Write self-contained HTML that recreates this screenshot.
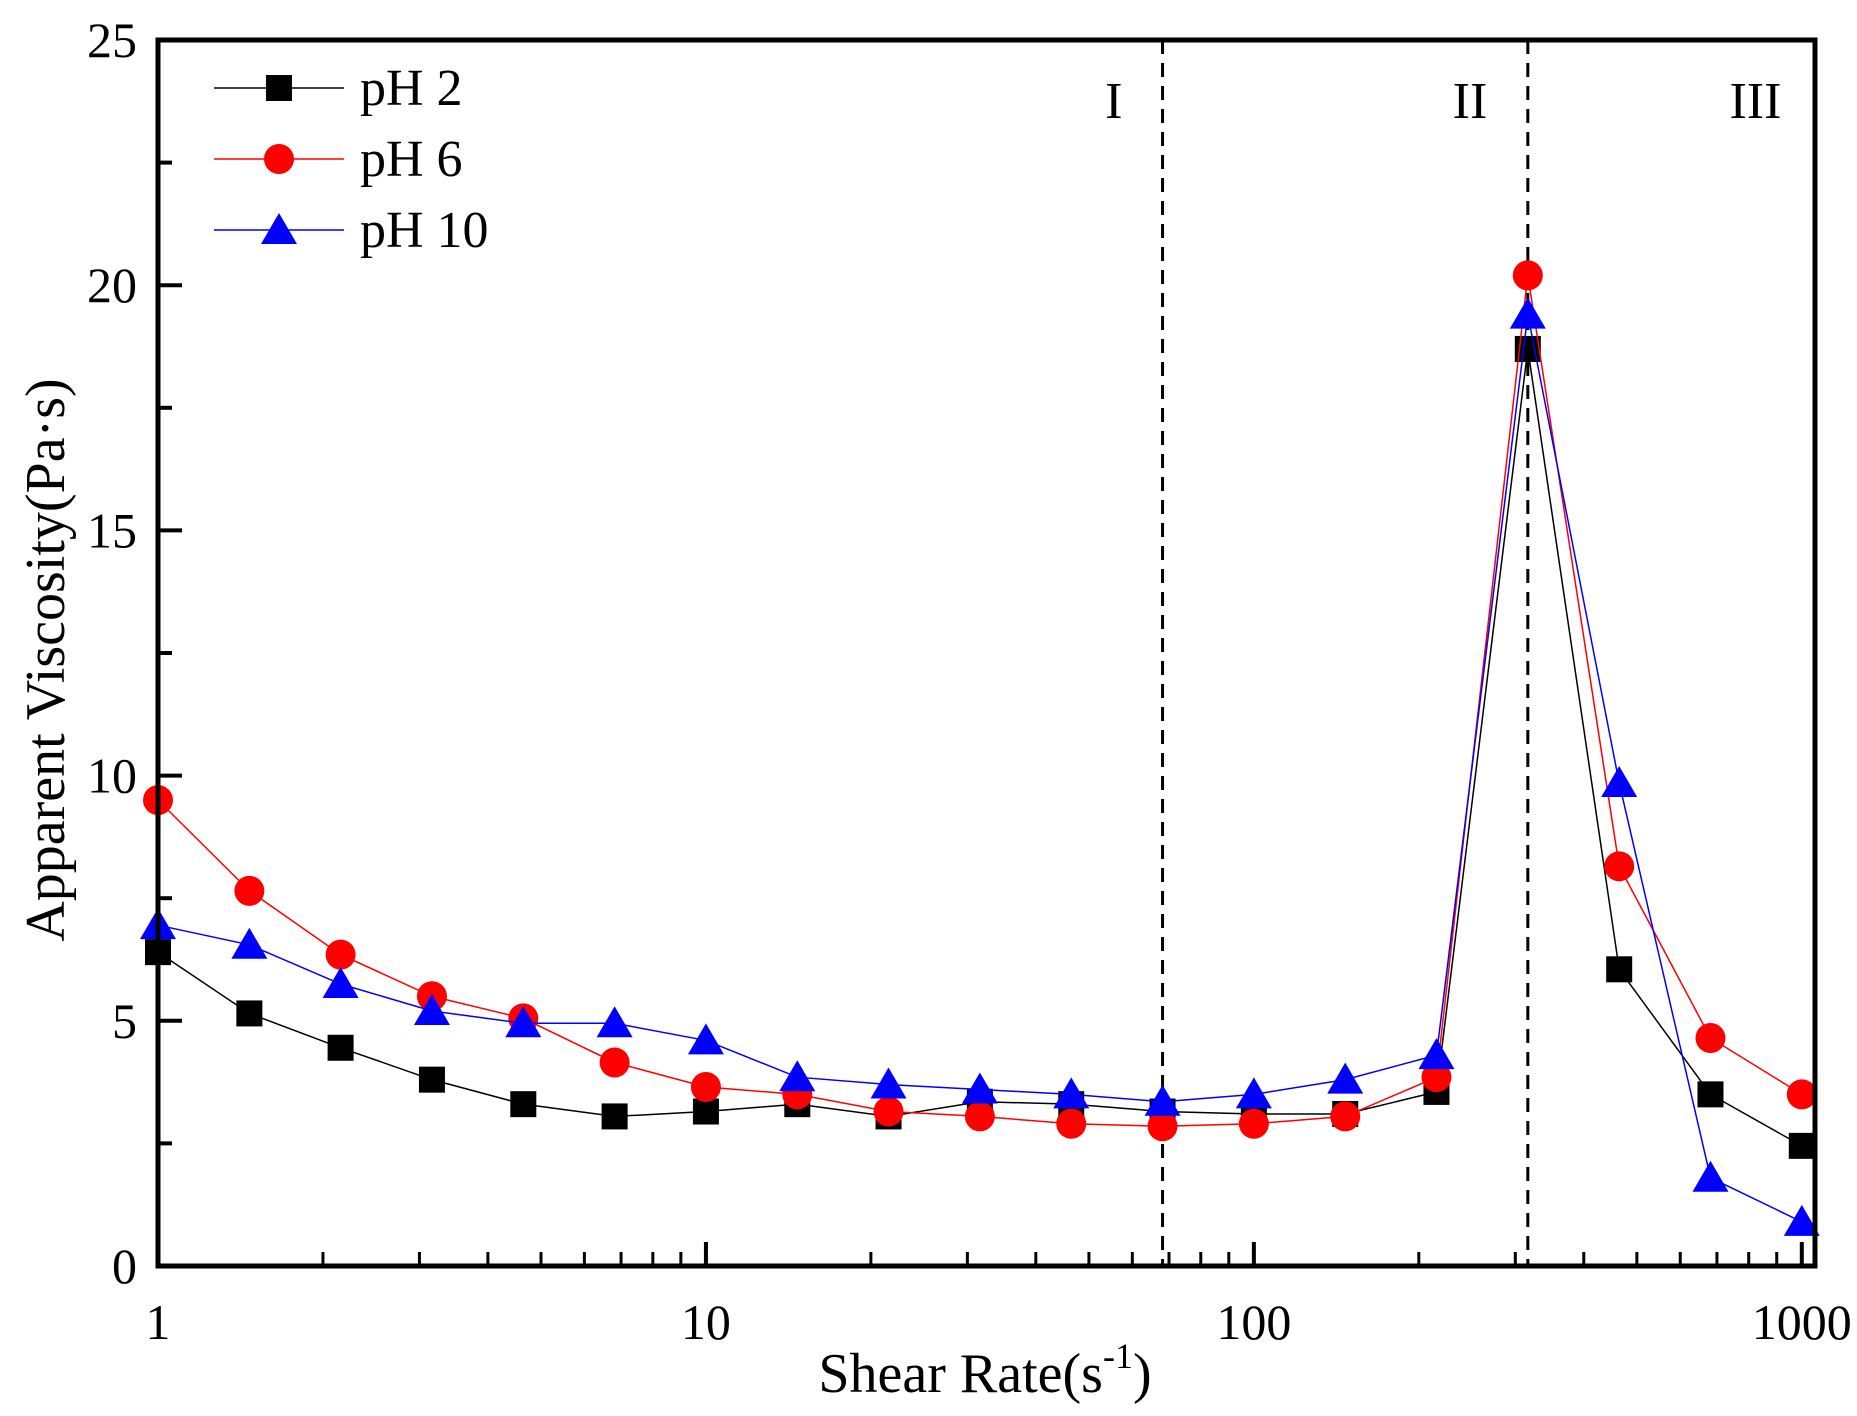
<!DOCTYPE html>
<html><head><meta charset="utf-8"><style>body{margin:0;background:#fff}svg{display:block}text{font-family:"Liberation Serif",serif;fill:#000}</style></head>
<body>
<svg id="chart" width="1857" height="1416" viewBox="0 0 1857 1416" xmlns="http://www.w3.org/2000/svg"></svg>
<script>
const xValues=[1,1.468,2.154,3.162,4.642,6.813,10,14.68,21.54,31.62,46.42,68.13,100,146.8,215.4,316.2,464.2,681.3,1000];
const pH2=[6.4,5.15,4.45,3.8,3.3,3.05,3.15,3.3,3.05,3.35,3.3,3.15,3.1,3.1,3.55,18.7,6.05,3.5,2.45];
const pH6=[9.5,7.65,6.35,5.5,5.05,4.15,3.65,3.5,3.15,3.05,2.9,2.85,2.9,3.05,3.85,20.2,8.15,4.65,3.5];
const pH10=[6.95,6.55,5.75,5.2,4.95,4.95,4.6,3.85,3.7,3.6,3.5,3.35,3.5,3.8,4.3,19.4,9.85,1.8,0.9];
const yTicks=[0,5,10,15,20,25];
const xTicks=[1,10,100,1000];
const xMax=1057;
const regionLines=[68.13,316.2];
const regionLabels=["I","II","III"];
const regionLabelX=[55.5,248,823];

const L=158,R=1815,T=40,B=1266;
const sx=v=>L+Math.log10(v)*(R-L)/Math.log10(xMax);
const sy=v=>B-v*(B-T)/25;
const svg=document.getElementById('chart');
const NS='http://www.w3.org/2000/svg';
function mk(tag,attrs,parent){const e=document.createElementNS(NS,tag);for(const k in attrs)e.setAttribute(k,attrs[k]);(parent||svg).appendChild(e);return e;}

regionLines.forEach(v=>{const l=mk('line',{x1:sx(v),x2:sx(v),y1:T,y2:B,stroke:'#000','stroke-width':3,'stroke-dasharray':'14,9'});

});
regionLabels.forEach((t,i)=>{const e=mk('text',{x:sx(regionLabelX[i]),y:118,'font-size':52,'text-anchor':'middle'});e.textContent=t;

});

yTicks.forEach(v=>{mk('line',{x1:L,x2:L+24,y1:sy(v),y2:sy(v),stroke:'#000','stroke-width':4});
const t=mk('text',{x:137,y:sy(v)+17,'font-size':50,'text-anchor':'end'});t.textContent=v;


if(v<25)mk('line',{x1:L,x2:L+14,y1:sy(v+2.5),y2:sy(v+2.5),stroke:'#000','stroke-width':4});});
xTicks.forEach((v,i)=>{mk('line',{x1:sx(v),x2:sx(v),y1:B,y2:B-24,stroke:'#000','stroke-width':4});
const t=mk('text',{x:sx(v),y:1339,'font-size':50,'text-anchor':'middle'});t.textContent=v;


if(i<3)for(let m=2;m<10;m++)mk('line',{x1:sx(v*m),x2:sx(v*m),y1:B,y2:B-14,stroke:'#000','stroke-width':3});});

function series(vals,color,marker,name){
const g=mk('g',{});


mk('polyline',{points:vals.map((v,i)=>sx(xValues[i])+','+sy(v)).join(' '),fill:'none',stroke:color,'stroke-width':1.5},g);
vals.forEach((v,i)=>drawMarker(g,sx(xValues[i]),sy(v),marker,color));}
function drawMarker(g,x,y,m,c){
if(m==='sq')mk('rect',{x:x-13,y:y-13,width:26,height:26,fill:c},g);
else if(m==='ci')mk('circle',{cx:x,cy:y,r:15,fill:c},g);
else mk('polygon',{points:`${x},${y-17} ${x+18},${y+14} ${x-18},${y+14}`,fill:c},g);}
series(pH2,'#000','sq','series-ph2');
series(pH6,'#f00','ci','series-ph6');
series(pH10,'#00f','tr','series-ph10');

mk('rect',{x:L,y:T,width:R-L,height:B-T,fill:'none',stroke:'#000','stroke-width':5});

const leg=[['pH 2','#000','sq'],['pH 6','#f00','ci'],['pH 10','#00f','tr']];
leg.forEach((d,i)=>{const y=88+i*71;const g=mk('g',{});


mk('line',{x1:214,x2:344,y1:y,y2:y,stroke:d[1],'stroke-width':1.5},g);drawMarker(g,279,y,d[2],d[1]);
const t=mk('text',{x:360,y:y+17,'font-size':52},g);t.textContent=d[0];});

const xt=mk('text',{x:985,y:1392,'font-size':56,'text-anchor':'middle'});


xt.innerHTML='Shear Rate(s<tspan dy="-24" font-size="36">-1</tspan><tspan dy="24">)</tspan>';
const yt=mk('text',{x:0,y:0,'font-size':56,'text-anchor':'middle',transform:'translate(64,660) rotate(-90)'});


yt.textContent='Apparent Viscosity(Pa·s)';
</script>
</body></html>
